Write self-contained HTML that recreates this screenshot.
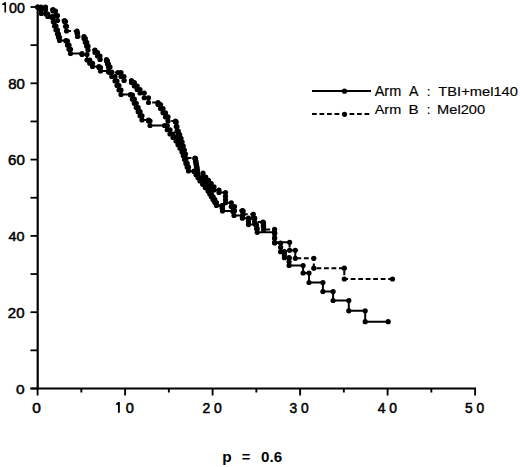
<!DOCTYPE html>
<html><head><meta charset="utf-8"><style>
html,body{margin:0;padding:0;background:#fff;}
body{width:520px;height:467px;overflow:hidden;position:relative;}
svg{position:absolute;left:0;top:0;}
text{font-family:"Liberation Sans",sans-serif;fill:#000;}
.yl{font-size:14px;}
.xl{font-size:14px;letter-spacing:3px;}
.lg{font-size:13.6px;}
.pv{font-size:14px;font-weight:bold;}
</style></head><body>
<svg width="520" height="467" viewBox="0 0 520 467">
<rect width="520" height="467" fill="#fff"/>
<line x1="37.7" y1="6" x2="37.7" y2="389.5" stroke="#000" stroke-width="2.2"/>
<line x1="30.5" y1="388.5" x2="476" y2="388.5" stroke="#000" stroke-width="2"/>
<line x1="30.5" y1="388.50" x2="38" y2="388.50" stroke="#000" stroke-width="1.8"/>
<line x1="30.5" y1="350.35" x2="38" y2="350.35" stroke="#000" stroke-width="1.8"/>
<line x1="30.5" y1="312.20" x2="38" y2="312.20" stroke="#000" stroke-width="1.8"/>
<line x1="30.5" y1="274.05" x2="38" y2="274.05" stroke="#000" stroke-width="1.8"/>
<line x1="30.5" y1="235.90" x2="38" y2="235.90" stroke="#000" stroke-width="1.8"/>
<line x1="30.5" y1="197.75" x2="38" y2="197.75" stroke="#000" stroke-width="1.8"/>
<line x1="30.5" y1="159.60" x2="38" y2="159.60" stroke="#000" stroke-width="1.8"/>
<line x1="30.5" y1="121.45" x2="38" y2="121.45" stroke="#000" stroke-width="1.8"/>
<line x1="30.5" y1="83.30" x2="38" y2="83.30" stroke="#000" stroke-width="1.8"/>
<line x1="30.5" y1="45.15" x2="38" y2="45.15" stroke="#000" stroke-width="1.8"/>
<line x1="30.5" y1="7.00" x2="38" y2="7.00" stroke="#000" stroke-width="1.8"/>
<line x1="37.60" y1="388" x2="37.60" y2="395.5" stroke="#000" stroke-width="1.9"/>
<line x1="81.35" y1="388" x2="81.35" y2="392.5" stroke="#000" stroke-width="1.9"/>
<line x1="125.10" y1="388" x2="125.10" y2="395.5" stroke="#000" stroke-width="1.9"/>
<line x1="168.85" y1="388" x2="168.85" y2="392.5" stroke="#000" stroke-width="1.9"/>
<line x1="212.60" y1="388" x2="212.60" y2="395.5" stroke="#000" stroke-width="1.9"/>
<line x1="256.35" y1="388" x2="256.35" y2="392.5" stroke="#000" stroke-width="1.9"/>
<line x1="300.10" y1="388" x2="300.10" y2="395.5" stroke="#000" stroke-width="1.9"/>
<line x1="343.85" y1="388" x2="343.85" y2="392.5" stroke="#000" stroke-width="1.9"/>
<line x1="387.60" y1="388" x2="387.60" y2="395.5" stroke="#000" stroke-width="1.9"/>
<line x1="431.35" y1="388" x2="431.35" y2="392.5" stroke="#000" stroke-width="1.9"/>
<line x1="475.10" y1="388" x2="475.10" y2="395.5" stroke="#000" stroke-width="1.9"/>
<text transform="translate(8.99,12.50) scale(1.0207,1.0202)" style="font-size:14px;font-weight:normal" stroke="#000" stroke-width="0.5" xml:space="preserve">00</text>
<text transform="translate(8.16,88.90) scale(1.0694,1.0101)" style="font-size:14px;font-weight:normal" stroke="#000" stroke-width="0.5" xml:space="preserve">80</text>
<text transform="translate(8.05,164.90) scale(1.0769,1.0101)" style="font-size:14px;font-weight:normal" stroke="#000" stroke-width="0.5" xml:space="preserve">60</text>
<text transform="translate(8.49,240.70) scale(1.0272,0.9697)" style="font-size:14px;font-weight:normal" stroke="#000" stroke-width="0.5" xml:space="preserve">40</text>
<text transform="translate(7.85,317.50) scale(1.0699,1.0101)" style="font-size:14px;font-weight:normal" stroke="#000" stroke-width="0.5" xml:space="preserve">20</text>
<text transform="translate(16.05,393.50) scale(1.1045,0.9697)" style="font-size:14px;font-weight:normal" stroke="#000" stroke-width="0.5" xml:space="preserve">0</text>
<text transform="translate(32.25,412.60) scale(1.1045,1.0505)" style="font-size:14px;font-weight:normal" stroke="#000" stroke-width="0.5" xml:space="preserve">0</text>
<text transform="translate(125.68,412.60) scale(1.0448,1.0505)" style="font-size:14px;font-weight:normal" stroke="#000" stroke-width="0.5" xml:space="preserve">0</text>
<text transform="translate(202.40,412.60) scale(0.9945,1.0505)" style="font-size:14px;font-weight:normal" stroke="#000" stroke-width="0.5" xml:space="preserve">2 0</text>
<text transform="translate(289.61,412.60) scale(0.9837,1.0505)" style="font-size:14px;font-weight:normal" stroke="#000" stroke-width="0.5" xml:space="preserve">3 0</text>
<text transform="translate(377.80,412.60) scale(0.9892,1.0505)" style="font-size:14px;font-weight:normal" stroke="#000" stroke-width="0.5" xml:space="preserve">4 0</text>
<text transform="translate(464.91,412.60) scale(0.9836,1.0505)" style="font-size:14px;font-weight:normal" stroke="#000" stroke-width="0.5" xml:space="preserve">5 0</text>
<text transform="translate(374.70,96.40) scale(1.0802,1.0543)" style="font-size:13.4px;font-weight:normal" stroke="#000" stroke-width="0.15" xml:space="preserve">Arm</text>
<text transform="translate(409.00,96.40) scale(1.0562,1.0543)" style="font-size:13.4px;font-weight:normal" stroke="#000" stroke-width="0.15" xml:space="preserve">A</text>
<text transform="translate(426.70,96.40) scale(1.0000,1.0000)" style="font-size:13.4px;font-weight:normal" stroke="#000" stroke-width="0.15" xml:space="preserve">:</text>
<text transform="translate(438.27,96.30) scale(1.0975,0.9898)" style="font-size:13.4px;font-weight:normal" stroke="#000" stroke-width="0.15" xml:space="preserve">TBI+mel140</text>
<text transform="translate(374.70,114.30) scale(1.0802,1.0217)" style="font-size:13.4px;font-weight:normal" stroke="#000" stroke-width="0.15" xml:space="preserve">Arm</text>
<text transform="translate(408.44,114.30) scale(1.1408,1.0217)" style="font-size:13.4px;font-weight:normal" stroke="#000" stroke-width="0.15" xml:space="preserve">B</text>
<text transform="translate(426.70,114.30) scale(1.0000,1.0000)" style="font-size:13.4px;font-weight:normal" stroke="#000" stroke-width="0.15" xml:space="preserve">:</text>
<text transform="translate(437.10,114.20) scale(1.0922,0.9592)" style="font-size:13.4px;font-weight:normal" stroke="#000" stroke-width="0.15" xml:space="preserve">Mel200</text>
<text transform="translate(222.21,461.60) scale(1.0986,1.0000)" style="font-size:14px;font-weight:bold" stroke="#000" stroke-width="0.0" xml:space="preserve">p</text>
<text transform="translate(241.87,461.60) scale(1.0429,1.0000)" style="font-size:14px;font-weight:bold" stroke="#000" stroke-width="0.0" xml:space="preserve">=</text>
<text transform="translate(261.05,461.60) scale(1.0815,1.0404)" style="font-size:14px;font-weight:bold" stroke="#000" stroke-width="0.0" xml:space="preserve">0.6</text>
<g fill="#000"><path d="M4.45,2.3H6.05V12.5H4.45V5.0H2.1V4.1Z"/><path d="M117.95,401.9H119.85V412.7H117.95V404.8H115.8V403.9Z"/></g>
<g fill="#000">
<path d="M37.70,7.00H41.00V9.50H41.30V13.50H46.00V14.00H47.80V16.50H52.00V17.50H53.25V21.75H54.50V26.00H56.00V30.00H57.50V34.00H58.50V37.25H59.50V40.50H66.00V41.00H67.50V45.17H69.00V49.33H70.50V53.50H82.00V54.50H87.00V60.00H89.75V63.25H92.50V66.50H99.00V67.50H100.50V71.00H108.50V72.00H111.75V76.50H115.00V81.00H117.00V85.50H119.00V90.00H121.00V94.50H130.50V95.00H132.42V99.17H134.33V103.33H136.25V107.50H138.17V111.67H140.08V115.83H142.00V120.00H148.50V121.00H150.00V125.50H164.50V125.50H167.25V129.75H170.00V134.00H173.00V137.50H176.00V141.00H178.00V144.67H180.00V148.33H182.00V152.00H183.30V155.80H184.60V159.60H185.90V163.40H187.20V167.20H188.50V171.00H194.00V171.50H196.00V174.67H198.00V177.83H200.00V181.00H202.67V184.33H205.33V187.67H208.00V191.00H209.70V193.90H211.40V196.80H213.10V199.70H214.80V202.60H216.50V205.50H222.00V206.00H222.25V208.50H222.50V211.00H233.00V211.50H234.00V215.50H242.40V215.50H242.40V218.20H248.50V218.20H248.50V221.40H248.50V224.60H255.90V225.00H256.55V228.65H257.20V232.30H274.60V233.00H274.60V238.00H274.60V243.00H280.60V243.00H280.60V247.35H280.60V251.70H284.40V252.00H284.40V254.85H284.40V257.70H289.10V258.00H289.10V261.75H289.10V265.50H303.10V273.00H309.00V282.50H322.90V291.50H333.10V300.50H348.80V310.80H365.20V321.70H388.20V321.70" fill="none" stroke="#000" stroke-width="2"/>
<circle cx="37.70" cy="7.00" r="2.6"/>
<circle cx="41.00" cy="7.00" r="2.6"/>
<circle cx="41.00" cy="9.50" r="2.6"/>
<circle cx="41.30" cy="9.50" r="2.6"/>
<circle cx="41.30" cy="13.50" r="2.6"/>
<circle cx="46.00" cy="13.50" r="2.6"/>
<circle cx="46.00" cy="14.00" r="2.6"/>
<circle cx="47.80" cy="14.00" r="2.6"/>
<circle cx="47.80" cy="16.50" r="2.6"/>
<circle cx="52.00" cy="16.50" r="2.6"/>
<circle cx="52.00" cy="17.50" r="2.6"/>
<circle cx="53.25" cy="17.50" r="2.6"/>
<circle cx="53.25" cy="21.75" r="2.6"/>
<circle cx="54.50" cy="21.75" r="2.6"/>
<circle cx="54.50" cy="26.00" r="2.6"/>
<circle cx="56.00" cy="26.00" r="2.6"/>
<circle cx="56.00" cy="30.00" r="2.6"/>
<circle cx="57.50" cy="30.00" r="2.6"/>
<circle cx="57.50" cy="34.00" r="2.6"/>
<circle cx="58.50" cy="34.00" r="2.6"/>
<circle cx="58.50" cy="37.25" r="2.6"/>
<circle cx="59.50" cy="37.25" r="2.6"/>
<circle cx="59.50" cy="40.50" r="2.6"/>
<circle cx="66.00" cy="40.50" r="2.6"/>
<circle cx="66.00" cy="41.00" r="2.6"/>
<circle cx="67.50" cy="41.00" r="2.6"/>
<circle cx="67.50" cy="45.17" r="2.6"/>
<circle cx="69.00" cy="45.17" r="2.6"/>
<circle cx="69.00" cy="49.33" r="2.6"/>
<circle cx="70.50" cy="49.33" r="2.6"/>
<circle cx="70.50" cy="53.50" r="2.6"/>
<circle cx="82.00" cy="53.50" r="2.6"/>
<circle cx="82.00" cy="54.50" r="2.6"/>
<circle cx="87.00" cy="54.50" r="2.6"/>
<circle cx="87.00" cy="60.00" r="2.6"/>
<circle cx="89.75" cy="60.00" r="2.6"/>
<circle cx="89.75" cy="63.25" r="2.6"/>
<circle cx="92.50" cy="63.25" r="2.6"/>
<circle cx="92.50" cy="66.50" r="2.6"/>
<circle cx="99.00" cy="66.50" r="2.6"/>
<circle cx="99.00" cy="67.50" r="2.6"/>
<circle cx="100.50" cy="67.50" r="2.6"/>
<circle cx="100.50" cy="71.00" r="2.6"/>
<circle cx="108.50" cy="71.00" r="2.6"/>
<circle cx="108.50" cy="72.00" r="2.6"/>
<circle cx="111.75" cy="72.00" r="2.6"/>
<circle cx="111.75" cy="76.50" r="2.6"/>
<circle cx="115.00" cy="76.50" r="2.6"/>
<circle cx="115.00" cy="81.00" r="2.6"/>
<circle cx="117.00" cy="81.00" r="2.6"/>
<circle cx="117.00" cy="85.50" r="2.6"/>
<circle cx="119.00" cy="85.50" r="2.6"/>
<circle cx="119.00" cy="90.00" r="2.6"/>
<circle cx="121.00" cy="90.00" r="2.6"/>
<circle cx="121.00" cy="94.50" r="2.6"/>
<circle cx="130.50" cy="94.50" r="2.6"/>
<circle cx="130.50" cy="95.00" r="2.6"/>
<circle cx="132.42" cy="95.00" r="2.6"/>
<circle cx="132.42" cy="99.17" r="2.6"/>
<circle cx="134.33" cy="99.17" r="2.6"/>
<circle cx="134.33" cy="103.33" r="2.6"/>
<circle cx="136.25" cy="103.33" r="2.6"/>
<circle cx="136.25" cy="107.50" r="2.6"/>
<circle cx="138.17" cy="107.50" r="2.6"/>
<circle cx="138.17" cy="111.67" r="2.6"/>
<circle cx="140.08" cy="111.67" r="2.6"/>
<circle cx="140.08" cy="115.83" r="2.6"/>
<circle cx="142.00" cy="115.83" r="2.6"/>
<circle cx="142.00" cy="120.00" r="2.6"/>
<circle cx="148.50" cy="120.00" r="2.6"/>
<circle cx="148.50" cy="121.00" r="2.6"/>
<circle cx="150.00" cy="121.00" r="2.6"/>
<circle cx="150.00" cy="125.50" r="2.6"/>
<circle cx="164.50" cy="125.50" r="2.6"/>
<circle cx="167.25" cy="125.50" r="2.6"/>
<circle cx="167.25" cy="129.75" r="2.6"/>
<circle cx="170.00" cy="129.75" r="2.6"/>
<circle cx="170.00" cy="134.00" r="2.6"/>
<circle cx="173.00" cy="134.00" r="2.6"/>
<circle cx="173.00" cy="137.50" r="2.6"/>
<circle cx="176.00" cy="137.50" r="2.6"/>
<circle cx="176.00" cy="141.00" r="2.6"/>
<circle cx="178.00" cy="141.00" r="2.6"/>
<circle cx="178.00" cy="144.67" r="2.6"/>
<circle cx="180.00" cy="144.67" r="2.6"/>
<circle cx="180.00" cy="148.33" r="2.6"/>
<circle cx="182.00" cy="148.33" r="2.6"/>
<circle cx="182.00" cy="152.00" r="2.6"/>
<circle cx="183.30" cy="152.00" r="2.6"/>
<circle cx="183.30" cy="155.80" r="2.6"/>
<circle cx="184.60" cy="155.80" r="2.6"/>
<circle cx="184.60" cy="159.60" r="2.6"/>
<circle cx="185.90" cy="159.60" r="2.6"/>
<circle cx="185.90" cy="163.40" r="2.6"/>
<circle cx="187.20" cy="163.40" r="2.6"/>
<circle cx="187.20" cy="167.20" r="2.6"/>
<circle cx="188.50" cy="167.20" r="2.6"/>
<circle cx="188.50" cy="171.00" r="2.6"/>
<circle cx="194.00" cy="171.00" r="2.6"/>
<circle cx="194.00" cy="171.50" r="2.6"/>
<circle cx="196.00" cy="171.50" r="2.6"/>
<circle cx="196.00" cy="174.67" r="2.6"/>
<circle cx="198.00" cy="174.67" r="2.6"/>
<circle cx="198.00" cy="177.83" r="2.6"/>
<circle cx="200.00" cy="177.83" r="2.6"/>
<circle cx="200.00" cy="181.00" r="2.6"/>
<circle cx="202.67" cy="181.00" r="2.6"/>
<circle cx="202.67" cy="184.33" r="2.6"/>
<circle cx="205.33" cy="184.33" r="2.6"/>
<circle cx="205.33" cy="187.67" r="2.6"/>
<circle cx="208.00" cy="187.67" r="2.6"/>
<circle cx="208.00" cy="191.00" r="2.6"/>
<circle cx="209.70" cy="191.00" r="2.6"/>
<circle cx="209.70" cy="193.90" r="2.6"/>
<circle cx="211.40" cy="193.90" r="2.6"/>
<circle cx="211.40" cy="196.80" r="2.6"/>
<circle cx="213.10" cy="196.80" r="2.6"/>
<circle cx="213.10" cy="199.70" r="2.6"/>
<circle cx="214.80" cy="199.70" r="2.6"/>
<circle cx="214.80" cy="202.60" r="2.6"/>
<circle cx="216.50" cy="202.60" r="2.6"/>
<circle cx="216.50" cy="205.50" r="2.6"/>
<circle cx="222.00" cy="205.50" r="2.6"/>
<circle cx="222.00" cy="206.00" r="2.6"/>
<circle cx="222.25" cy="206.00" r="2.6"/>
<circle cx="222.25" cy="208.50" r="2.6"/>
<circle cx="222.50" cy="208.50" r="2.6"/>
<circle cx="222.50" cy="211.00" r="2.6"/>
<circle cx="233.00" cy="211.00" r="2.6"/>
<circle cx="233.00" cy="211.50" r="2.6"/>
<circle cx="234.00" cy="211.50" r="2.6"/>
<circle cx="234.00" cy="215.50" r="2.6"/>
<circle cx="242.40" cy="215.50" r="2.6"/>
<circle cx="242.40" cy="218.20" r="2.6"/>
<circle cx="248.50" cy="218.20" r="2.6"/>
<circle cx="248.50" cy="221.40" r="2.6"/>
<circle cx="248.50" cy="224.60" r="2.6"/>
<circle cx="255.90" cy="224.60" r="2.6"/>
<circle cx="255.90" cy="225.00" r="2.6"/>
<circle cx="256.55" cy="225.00" r="2.6"/>
<circle cx="256.55" cy="228.65" r="2.6"/>
<circle cx="257.20" cy="228.65" r="2.6"/>
<circle cx="257.20" cy="232.30" r="2.6"/>
<circle cx="274.60" cy="232.30" r="2.6"/>
<circle cx="274.60" cy="233.00" r="2.6"/>
<circle cx="274.60" cy="238.00" r="2.6"/>
<circle cx="274.60" cy="243.00" r="2.6"/>
<circle cx="280.60" cy="243.00" r="2.6"/>
<circle cx="280.60" cy="247.35" r="2.6"/>
<circle cx="280.60" cy="251.70" r="2.6"/>
<circle cx="284.40" cy="251.70" r="2.6"/>
<circle cx="284.40" cy="252.00" r="2.6"/>
<circle cx="284.40" cy="254.85" r="2.6"/>
<circle cx="284.40" cy="257.70" r="2.6"/>
<circle cx="289.10" cy="257.70" r="2.6"/>
<circle cx="289.10" cy="258.00" r="2.6"/>
<circle cx="289.10" cy="261.75" r="2.6"/>
<circle cx="289.10" cy="265.50" r="2.6"/>
<circle cx="303.10" cy="265.50" r="2.6"/>
<circle cx="303.10" cy="273.00" r="2.6"/>
<circle cx="309.00" cy="273.00" r="2.6"/>
<circle cx="309.00" cy="282.50" r="2.6"/>
<circle cx="322.90" cy="282.50" r="2.6"/>
<circle cx="322.90" cy="291.50" r="2.6"/>
<circle cx="333.10" cy="291.50" r="2.6"/>
<circle cx="333.10" cy="300.50" r="2.6"/>
<circle cx="348.80" cy="300.50" r="2.6"/>
<circle cx="348.80" cy="310.80" r="2.6"/>
<circle cx="365.20" cy="310.80" r="2.6"/>
<circle cx="365.20" cy="321.70" r="2.6"/>
<circle cx="388.20" cy="321.70" r="2.6"/>
<path d="M37.70,7.00H45.50V9.50H53.00V11.00H55.50V15.50H57.50V20.50H64.50V21.50H65.50V26.25H66.50V31.00H77.00V33.00H77.50V36.50H84.00V38.50H85.33V42.33H86.67V46.17H88.00V50.00H95.00V52.50H97.50V56.00H100.00V59.50H106.50V61.00H107.50V64.00H108.50V67.00H110.00V72.50H118.00V72.50H121.00V76.50H124.00V80.50H131.50V82.50H134.33V86.00H137.17V89.50H140.00V93.00H144.25V97.75H148.50V102.50H158.00V104.50H160.50V108.62H163.00V112.75H165.50V116.88H168.00V121.00H175.50V122.00H176.25V126.50H177.00V131.00H178.33V134.67H179.67V138.33H181.00V142.00H182.12V146.00H183.25V150.00H184.38V154.00H185.50V158.00H195.00V158.50H195.50V161.40H196.00V164.30H196.50V167.20H197.00V170.10H197.50V173.00H203.00V177.00H205.75V180.25H208.50V183.50H211.25V186.75H214.00V190.00H219.00V192.50H225.50V196.30H225.50V199.55H225.50V202.80H231.30V206.60H234.50V210.50H242.40V211.00H243.10V214.30H253.30V214.30H253.30V218.00H254.60V218.50H254.60V222.00H263.00V222.50H263.30V225.95H263.60V229.40H274.60V229.40H274.60V233.70H274.60V238.00H274.60V242.30H289.60V250.30H295.30V258.30H313.80V268.20H344.30V279.00H392.50V279.00" fill="none" stroke="#000" stroke-width="2" stroke-dasharray="4.8,2.7"/>
<circle cx="37.70" cy="7.00" r="2.6"/>
<circle cx="45.50" cy="7.00" r="2.6"/>
<circle cx="45.50" cy="9.50" r="2.6"/>
<circle cx="53.00" cy="9.50" r="2.6"/>
<circle cx="53.00" cy="11.00" r="2.6"/>
<circle cx="55.50" cy="11.00" r="2.6"/>
<circle cx="55.50" cy="15.50" r="2.6"/>
<circle cx="57.50" cy="15.50" r="2.6"/>
<circle cx="57.50" cy="20.50" r="2.6"/>
<circle cx="64.50" cy="20.50" r="2.6"/>
<circle cx="64.50" cy="21.50" r="2.6"/>
<circle cx="65.50" cy="21.50" r="2.6"/>
<circle cx="65.50" cy="26.25" r="2.6"/>
<circle cx="66.50" cy="26.25" r="2.6"/>
<circle cx="66.50" cy="31.00" r="2.6"/>
<circle cx="77.00" cy="31.00" r="2.6"/>
<circle cx="77.00" cy="33.00" r="2.6"/>
<circle cx="77.50" cy="33.00" r="2.6"/>
<circle cx="77.50" cy="36.50" r="2.6"/>
<circle cx="84.00" cy="36.50" r="2.6"/>
<circle cx="84.00" cy="38.50" r="2.6"/>
<circle cx="85.33" cy="38.50" r="2.6"/>
<circle cx="85.33" cy="42.33" r="2.6"/>
<circle cx="86.67" cy="42.33" r="2.6"/>
<circle cx="86.67" cy="46.17" r="2.6"/>
<circle cx="88.00" cy="46.17" r="2.6"/>
<circle cx="88.00" cy="50.00" r="2.6"/>
<circle cx="95.00" cy="50.00" r="2.6"/>
<circle cx="95.00" cy="52.50" r="2.6"/>
<circle cx="97.50" cy="52.50" r="2.6"/>
<circle cx="97.50" cy="56.00" r="2.6"/>
<circle cx="100.00" cy="56.00" r="2.6"/>
<circle cx="100.00" cy="59.50" r="2.6"/>
<circle cx="106.50" cy="59.50" r="2.6"/>
<circle cx="106.50" cy="61.00" r="2.6"/>
<circle cx="107.50" cy="61.00" r="2.6"/>
<circle cx="107.50" cy="64.00" r="2.6"/>
<circle cx="108.50" cy="64.00" r="2.6"/>
<circle cx="108.50" cy="67.00" r="2.6"/>
<circle cx="110.00" cy="67.00" r="2.6"/>
<circle cx="110.00" cy="72.50" r="2.6"/>
<circle cx="118.00" cy="72.50" r="2.6"/>
<circle cx="121.00" cy="72.50" r="2.6"/>
<circle cx="121.00" cy="76.50" r="2.6"/>
<circle cx="124.00" cy="76.50" r="2.6"/>
<circle cx="124.00" cy="80.50" r="2.6"/>
<circle cx="131.50" cy="80.50" r="2.6"/>
<circle cx="131.50" cy="82.50" r="2.6"/>
<circle cx="134.33" cy="82.50" r="2.6"/>
<circle cx="134.33" cy="86.00" r="2.6"/>
<circle cx="137.17" cy="86.00" r="2.6"/>
<circle cx="137.17" cy="89.50" r="2.6"/>
<circle cx="140.00" cy="89.50" r="2.6"/>
<circle cx="140.00" cy="93.00" r="2.6"/>
<circle cx="144.25" cy="93.00" r="2.6"/>
<circle cx="144.25" cy="97.75" r="2.6"/>
<circle cx="148.50" cy="97.75" r="2.6"/>
<circle cx="148.50" cy="102.50" r="2.6"/>
<circle cx="158.00" cy="102.50" r="2.6"/>
<circle cx="158.00" cy="104.50" r="2.6"/>
<circle cx="160.50" cy="104.50" r="2.6"/>
<circle cx="160.50" cy="108.62" r="2.6"/>
<circle cx="163.00" cy="108.62" r="2.6"/>
<circle cx="163.00" cy="112.75" r="2.6"/>
<circle cx="165.50" cy="112.75" r="2.6"/>
<circle cx="165.50" cy="116.88" r="2.6"/>
<circle cx="168.00" cy="116.88" r="2.6"/>
<circle cx="168.00" cy="121.00" r="2.6"/>
<circle cx="175.50" cy="121.00" r="2.6"/>
<circle cx="175.50" cy="122.00" r="2.6"/>
<circle cx="176.25" cy="122.00" r="2.6"/>
<circle cx="176.25" cy="126.50" r="2.6"/>
<circle cx="177.00" cy="126.50" r="2.6"/>
<circle cx="177.00" cy="131.00" r="2.6"/>
<circle cx="178.33" cy="131.00" r="2.6"/>
<circle cx="178.33" cy="134.67" r="2.6"/>
<circle cx="179.67" cy="134.67" r="2.6"/>
<circle cx="179.67" cy="138.33" r="2.6"/>
<circle cx="181.00" cy="138.33" r="2.6"/>
<circle cx="181.00" cy="142.00" r="2.6"/>
<circle cx="182.12" cy="142.00" r="2.6"/>
<circle cx="182.12" cy="146.00" r="2.6"/>
<circle cx="183.25" cy="146.00" r="2.6"/>
<circle cx="183.25" cy="150.00" r="2.6"/>
<circle cx="184.38" cy="150.00" r="2.6"/>
<circle cx="184.38" cy="154.00" r="2.6"/>
<circle cx="185.50" cy="154.00" r="2.6"/>
<circle cx="185.50" cy="158.00" r="2.6"/>
<circle cx="195.00" cy="158.00" r="2.6"/>
<circle cx="195.00" cy="158.50" r="2.6"/>
<circle cx="195.50" cy="158.50" r="2.6"/>
<circle cx="195.50" cy="161.40" r="2.6"/>
<circle cx="196.00" cy="161.40" r="2.6"/>
<circle cx="196.00" cy="164.30" r="2.6"/>
<circle cx="196.50" cy="164.30" r="2.6"/>
<circle cx="196.50" cy="167.20" r="2.6"/>
<circle cx="197.00" cy="167.20" r="2.6"/>
<circle cx="197.00" cy="170.10" r="2.6"/>
<circle cx="197.50" cy="170.10" r="2.6"/>
<circle cx="197.50" cy="173.00" r="2.6"/>
<circle cx="203.00" cy="173.00" r="2.6"/>
<circle cx="203.00" cy="177.00" r="2.6"/>
<circle cx="205.75" cy="177.00" r="2.6"/>
<circle cx="205.75" cy="180.25" r="2.6"/>
<circle cx="208.50" cy="180.25" r="2.6"/>
<circle cx="208.50" cy="183.50" r="2.6"/>
<circle cx="211.25" cy="183.50" r="2.6"/>
<circle cx="211.25" cy="186.75" r="2.6"/>
<circle cx="214.00" cy="186.75" r="2.6"/>
<circle cx="214.00" cy="190.00" r="2.6"/>
<circle cx="219.00" cy="190.00" r="2.6"/>
<circle cx="219.00" cy="192.50" r="2.6"/>
<circle cx="225.50" cy="192.50" r="2.6"/>
<circle cx="225.50" cy="196.30" r="2.6"/>
<circle cx="225.50" cy="199.55" r="2.6"/>
<circle cx="225.50" cy="202.80" r="2.6"/>
<circle cx="231.30" cy="202.80" r="2.6"/>
<circle cx="231.30" cy="206.60" r="2.6"/>
<circle cx="234.50" cy="206.60" r="2.6"/>
<circle cx="234.50" cy="210.50" r="2.6"/>
<circle cx="242.40" cy="210.50" r="2.6"/>
<circle cx="242.40" cy="211.00" r="2.6"/>
<circle cx="243.10" cy="211.00" r="2.6"/>
<circle cx="243.10" cy="214.30" r="2.6"/>
<circle cx="253.30" cy="214.30" r="2.6"/>
<circle cx="253.30" cy="218.00" r="2.6"/>
<circle cx="254.60" cy="218.00" r="2.6"/>
<circle cx="254.60" cy="218.50" r="2.6"/>
<circle cx="254.60" cy="222.00" r="2.6"/>
<circle cx="263.00" cy="222.00" r="2.6"/>
<circle cx="263.00" cy="222.50" r="2.6"/>
<circle cx="263.30" cy="222.50" r="2.6"/>
<circle cx="263.30" cy="225.95" r="2.6"/>
<circle cx="263.60" cy="225.95" r="2.6"/>
<circle cx="263.60" cy="229.40" r="2.6"/>
<circle cx="274.60" cy="229.40" r="2.6"/>
<circle cx="274.60" cy="233.70" r="2.6"/>
<circle cx="274.60" cy="238.00" r="2.6"/>
<circle cx="274.60" cy="242.30" r="2.6"/>
<circle cx="289.60" cy="242.30" r="2.6"/>
<circle cx="289.60" cy="250.30" r="2.6"/>
<circle cx="295.30" cy="250.30" r="2.6"/>
<circle cx="295.30" cy="258.30" r="2.6"/>
<circle cx="313.80" cy="258.30" r="2.6"/>
<circle cx="313.80" cy="268.20" r="2.6"/>
<circle cx="344.30" cy="268.20" r="2.6"/>
<circle cx="344.30" cy="279.00" r="2.6"/>
<circle cx="392.50" cy="279.00" r="2.6"/>
</g>
<g fill="#000">
<line x1="312" y1="91" x2="371" y2="91" stroke="#000" stroke-width="2"/>
<circle cx="344.5" cy="91.2" r="2.6"/>
<line x1="312" y1="114" x2="371" y2="114" stroke="#000" stroke-width="2" stroke-dasharray="4.8,2.7"/>
<circle cx="344.5" cy="114.3" r="2.6"/>
</g>
</svg>
</body></html>
